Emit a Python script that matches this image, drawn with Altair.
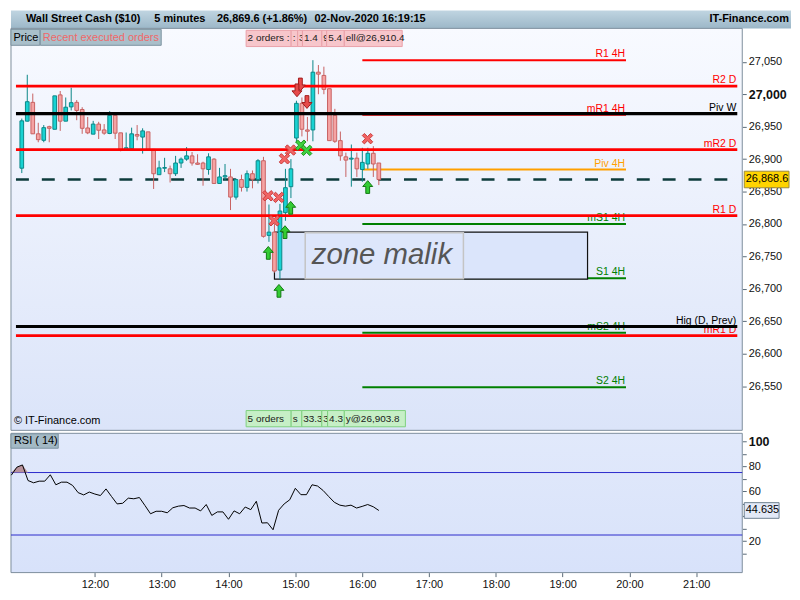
import altair as alt
import pandas as pd

# ------------------------------------------------------------------ data
first_candle = "10:50"
step_min = 5
opens = [
    26886, 26958.5, 26987.5, 26939, 26929, 26950, 26946, 26999, 26958.5, 26980.5,
    26987.5, 26976.5, 26948, 26938.5, 26954, 26945, 26939.5, 26967.5, 26940.5, 26915,
    26916, 26938, 26934, 26942, 26915, 26876, 26886, 26885, 26877.5, 26894,
    26900, 26905, 26894, 26894, 26884, 26900, 26862.5, 26872.5, 26872.5, 26841.5,
    26868.5, 26856.5, 26877.5, 26868.5, 26897.5, 26782.5, 26787.5, 26729, 26817.5, 26857.5,
    26932.5, 26986, 26945, 26945, 27034, 27029, 27008.5, 26967.5, 26928.5, 26903.5,
    26900, 26901.5, 26884, 26892.5, 26909, 26894,
]
highs = [
    26962.5, 27030, 27001, 26956, 26952.5, 26951.5, 26997.5, 27005, 26995, 27010,
    26991, 26980, 26965, 26959, 26957.5, 26954, 26974, 26967.5, 26940.5, 26941,
    26948.5, 26952.5, 26947.5, 26942, 26915, 26897.5, 26902, 26890, 26905, 26902.5,
    26918.5, 26911, 26907.5, 26896, 26909, 26901.5, 26886.5, 26892.5, 26885, 26870,
    26876, 26882.5, 26882.5, 26900, 26903.5, 26830, 26800, 26831, 26885, 26900,
    26990, 26995, 26965, 27052.5, 27045, 27042.5, 27008.5, 26977.5, 26942.5, 26910,
    26922.5, 26910, 26917.5, 26917.5, 26920, 26894,
]
lows = [
    26878.5, 26958, 26939, 26926, 26926, 26926, 26946, 26943.5, 26958.5, 26975,
    26960, 26939, 26938.5, 26938.5, 26931, 26937.5, 26938.5, 26931, 26912, 26915,
    26916, 26929, 26908.5, 26915, 26854, 26876, 26880, 26864, 26874, 26886.5,
    26897.5, 26890, 26891, 26859, 26876, 26862.5, 26862.5, 26867.5, 26821.5, 26837.5,
    26850, 26850, 26855, 26862.5, 26779, 26772.5, 26725, 26715, 26805, 26840,
    26925, 26935, 26927.5, 26927.5, 27000, 27000, 26928.5, 26925, 26897.5, 26872.5,
    26857.5, 26872.5, 26865, 26885, 26872.5, 26860,
]
closes = [
    26959, 26988.5, 26939, 26930, 26948.5, 26947.5, 26997.5, 26958.5, 26980, 26987,
    26975, 26947.5, 26940.5, 26954, 26944.5, 26940, 26967.5, 26940, 26915, 26917.5,
    26939, 26935.5, 26943.5, 26915, 26877.5, 26886.5, 26887, 26877.5, 26894, 26900,
    26905, 26894, 26892, 26885, 26903.5, 26862.5, 26872.5, 26874.5, 26841.5, 26868.5,
    26856.5, 26877.5, 26869, 26897.5, 26781, 26787.5, 26727.5, 26820, 26856, 26885,
    26986, 26946, 26943, 27034, 27031, 27007.5, 26928.5, 26927.5, 26905, 26898.5,
    26901.5, 26885, 26895, 26909, 26892.5, 26868.6,
]
current_price = 26868.6

rsi_first = "10:45"
rsi_values = [
    72.9, 79.3, 81.1, 68.6, 66.8, 68.1, 68.1, 73.2, 65.2, 67.3,
    67.3, 64.7, 58.9, 57.1, 59.4, 57.8, 56.6, 61.9, 55.8, 49.9,
    50.4, 54.5, 54.0, 55.0, 48.6, 42.0, 44.0, 44.0, 42.8, 46.8,
    48.1, 48.6, 46.6, 46.6, 44.3, 49.4, 40.7, 43.5, 43.5, 37.6,
    44.3, 42.0, 47.4, 45.3, 52.0, 34.6, 34.8, 29.2, 44.8, 49.9,
    53.2, 62.4, 57.3, 57.3, 65.2, 64.2, 60.6, 55.8, 51.2, 48.9,
    48.1, 48.9, 46.6, 47.9, 49.4, 47.6, 44.635,
]
rsi_bands = [75, 25]

level_names = ["R1 4H", "R2 D", "Piv W", "mR1 4H", "mR2 D", "Piv 4H", "R1 D",
               "mS1 4H", "S1 4H", "Hig (D, Prev)", "mS2 4H", "mR1 D", "S2 4H"]
level_prices = [27052.5, 27012.5, 26970, 26968.5, 26914.5, 26884, 26813,
                26800, 26716.5, 26642, 26632.5, 26628, 26548.5]
level_kind = ["res", "res", "piv", "res", "res", "piv4h", "res",
              "sup", "sup", "hig", "sup", "res", "sup"]
level_period = ["4H", "D", "W", "4H", "D", "4H", "D",
                "4H", "4H", "D", "4H", "D", "4H"]
pivot4h_from, pivot4h_to = "16:00", "20:00"

marker_time = [894.6, 889.1, 874.1, 883.8, 879.7, 964.7,
               904.0, 909.3,
               903.6, 900.5, 909.6,
               894.8, 889.6, 874.4, 884.1, 964.9]
marker_price = [26914, 26900.5, 26843.5, 26841, 26805, 26931.5,
                26921.5, 26913.5,
                27015, 27006, 26988,
                26825, 26787.5, 26755.5, 26697, 26857]
marker_kind = ["x_red", "x_red", "x_red", "x_red", "x_red", "x_red",
               "x_green", "x_green",
               "sell", "sell", "sell",
               "buy", "buy", "buy", "buy", "buy"]

top_start = [854.2, 895.2, 901.1, 905.5, 923.1, 927.5, 943.6]
top_end = [895.2, 901.1, 905.5, 923.1, 927.5, 943.6, 996.3]
top_text = ["2 orders :", ":", "3", "1.4", "9", "5.4", "ell@26,910.4"]
bot_start = [854.2, 895.2, 904.9, 923.1, 928.4, 943.6]
bot_end = [895.2, 904.9, 923.1, 928.4, 943.6, 999.2]
bot_text = ["5 orders", "s", "33.3", "3", "4.3", "y@26,903.8"]

zone_from, zone_to = "14:40", "19:25"
zone_low, zone_high = 26715, 26787.5
zone_text = "zone malik"

price_ticks = [26550, 26600, 26650, 26700, 26750, 26800, 26850, 26900, 26950, 27000, 27050]
rsi_ticks = [10, 20, 30, 40, 50, 60, 70, 80, 90, 100]
rsi_labelled = [20, 60, 80, 100]
hour_labels = ["12:00", "13:00", "14:00", "15:00", "16:00", "17:00", "18:00", "19:00", "20:00", "21:00"]

# ------------------------------------------------------------------ layout
FONT = "Liberation Sans"
W, HP, HR, HH, HW = 735, 404, 140, 18, 784
x_domain = [644.7, 1301.3]
p_domain = [26482, 27101.5]
r_domain = [-5.1, 106.4]


def hm(s):
    h, m = s.split(":")
    return int(h) * 60 + int(m)


xs = alt.Scale(domain=x_domain, nice=False, zero=False)
ps = alt.Scale(domain=p_domain, nice=False, zero=False)
rs = alt.Scale(domain=r_domain, nice=False, zero=False)

price_axis = alt.Axis(
    orient="right", values=price_ticks, format=",.0f", title=None,
    labelFont=FONT,
    labelFontSize={"condition": {"test": "datum.value == 27000", "value": 12.5}, "value": 11},
    labelFontWeight={"condition": {"test": "datum.value == 27000", "value": "bold"}, "value": "normal"},
    labelColor="#111111", tickColor="#5a6a78", tickSize=4, labelPadding=2,
    domain=False, grid=False, zindex=0,
)
time_axis = alt.Axis(values=[hm(s) for s in hour_labels], labelExpr="floor(datum.value / 60) + ':00'",
                     title=None, labelFont=FONT, labelFontSize=11, labelColor="#111111",
                     tickColor="#5a6a78", tickSize=4, labelPadding=2, domain=False, grid=False, zindex=0)
rsi_axis = alt.Axis(
    orient="right", values=rsi_ticks, title=None,
    labelExpr="indexof(" + str(rsi_labelled) + ", datum.value) >= 0 ? datum.label : ''",
    labelFont=FONT,
    labelFontSize={"condition": {"test": "datum.value == 100", "value": 12.5}, "value": 11},
    labelFontWeight={"condition": {"test": "datum.value == 100", "value": "bold"}, "value": "normal"},
    labelColor="#111111", tickColor="#5a6a78", tickSize=4, labelPadding=2,
    domain=False, grid=False, zindex=0,
)

X = lambda f: alt.X(f, scale=xs, axis=None)
Y = lambda f: alt.Y(f, scale=ps, axis=price_axis)
XR = lambda f: alt.X(f, scale=xs, axis=time_axis)
YR = lambda f: alt.Y(f, scale=rs, axis=rsi_axis)

t0 = hm(first_candle)
candles = pd.DataFrame({
    "t": [t0 + step_min * i for i in range(len(opens))],
    "open": opens, "high": highs, "low": lows, "close": closes,
})
candles["dir"] = ["up" if c >= o else "down" for o, c in zip(opens, closes)]

r0 = hm(rsi_first)
rsi_df = pd.DataFrame({"t": [r0 + step_min * i for i in range(len(rsi_values))], "rsi": rsi_values})

lv = pd.DataFrame({"name": level_names, "price": level_prices, "kind": level_kind, "period": level_period})
lv["start"] = [hm(pivot4h_from) if p == "4H" else x_domain[0] for p in level_period]
lv["end"] = [hm(pivot4h_to) if p == "4H" else x_domain[1] for p in level_period]

marks = pd.DataFrame({"t": marker_time, "price": marker_price, "kind": marker_kind})

top_band = (27073.5, 27098.5)
bot_band = (26487.5, 26512.5)
top_df = pd.DataFrame({"a": top_start, "b": top_end, "text": top_text})
top_df["lo"], top_df["hi"] = top_band
top_df["mid"] = sum(top_band) / 2
bot_df = pd.DataFrame({"a": bot_start, "b": bot_end, "text": bot_text})
bot_df["lo"], bot_df["hi"] = bot_band
bot_df["mid"] = sum(bot_band) / 2

zone = pd.DataFrame({"a": [hm(zone_from)], "b": [hm(zone_to)], "lo": [zone_low], "hi": [zone_high]})
zone_lab = pd.DataFrame({"a": [hm("15:08")], "b": [hm("17:32")], "lo": [zone_low + 0.8],
                         "hi": [zone_high - 1], "tx": [hm("15:14")], "ty": [26738], "text": [zone_text]})

cur = pd.DataFrame({"price": [current_price], "a": [x_domain[0]], "b": [x_domain[1]]})
one = pd.DataFrame({"k": [0]})

up_col = alt.Scale(domain=["up", "down"], range=["#19d2d2", "#f5a3a3"])
up_str = alt.Scale(domain=["up", "down"], range=["#0b8787", "#c86262"])
lvl_col = alt.Scale(domain=["res", "sup", "piv4h", "piv", "hig"],
                    range=["#ff0000", "#008000", "#ffa000", "#000000", "#000000"])

# ------------------------------------------------------------------ price panel
bg_grad = {"gradient": "linear", "x1": 0, "y1": 0, "x2": 0, "y2": 1,
           "stops": [{"offset": 0, "color": "#f8faff"}, {"offset": 1, "color": "#dbe4f9"}]}
price_bg = alt.Chart(one).mark_rect(fill=bg_grad, stroke="#7d8d9c", strokeWidth=1).encode(
    x=alt.value(0), x2=alt.value(W), y=alt.value(0), y2=alt.value(HP))

hdr_grad = {"gradient": "linear", "x1": 0, "y1": 0, "x2": 0, "y2": 1,
            "stops": [{"offset": 0, "color": "#c0d5e1"}, {"offset": 1, "color": "#9cb7c8"}]}
hdr_bg = alt.Chart(one).mark_rect(fill=hdr_grad).encode(
    x=alt.value(0), x2=alt.value(HW), y=alt.value(-HH), y2=alt.value(0))


def htext(txt, x, align="left"):
    return alt.Chart(one).mark_text(text=txt, align=align, baseline="middle", fontSize=11,
                                    fontWeight="bold", font=FONT, color="#000000").encode(
        x=alt.value(x), y=alt.value(-HH / 2))


header = [
    hdr_bg,
    htext("Wall Street Cash ($10)", 15),
    htext("5 minutes", 144),
    htext("26,869.6 (+1.86%)", 207),
    htext("02-Nov-2020 16:19:15", 305),
    htext("IT-Finance.com", 782, "right"),
]

dashed = alt.Chart(cur).mark_rule(color="#0d3b3b", strokeWidth=2.3, strokeDash=[13, 13]).encode(
    x=X("a:Q"), x2="b:Q", y=Y("price:Q"))


def level_rule(flt, width):
    return alt.Chart(lv).transform_filter(flt).mark_rule(strokeWidth=width).encode(
        x=X("start:Q"), x2="end:Q", y=Y("price:Q"),
        color=alt.Color("kind:N", scale=lvl_col, legend=None))


lines_4h = level_rule("datum.period == '4H'", 2)
lines_red = level_rule("datum.period != '4H' && datum.kind == 'res'", 2.7)
lines_blk = level_rule("datum.kind == 'piv' || datum.kind == 'hig'", 3.2)

level_labels = alt.Chart(lv).mark_text(align="right", baseline="alphabetic", dx=-1, dy=-3,
                                       fontSize=10.5, font=FONT).encode(
    x=X("end:Q"), y=Y("price:Q"), text="name:N",
    color=alt.Color("kind:N", scale=lvl_col, legend=None))

zone_rect = alt.Chart(zone).mark_rect(fill="#dbe5fb", stroke="#111111", strokeWidth=1.2).encode(
    x=X("a:Q"), x2="b:Q", y=Y("lo:Q"), y2="hi:Q")
zone_box = alt.Chart(zone_lab).mark_rect(fill="#dde6fb", stroke="#c4c4c4", strokeWidth=1.5).encode(
    x=X("a:Q"), x2="b:Q", y=Y("lo:Q"), y2="hi:Q")
zone_txt = alt.Chart(zone_lab).mark_text(align="left", baseline="alphabetic", fontSize=29.5,
                                         fontStyle="italic", font=FONT, color="#555555").encode(
    x=X("tx:Q"), y=Y("ty:Q"), text="text:N")

wicks = alt.Chart(candles).mark_rule(strokeWidth=1).encode(
    x=X("t:Q"), y=Y("low:Q"), y2="high:Q",
    color=alt.Color("dir:N", scale=up_str, legend=None))
bodies = alt.Chart(candles).mark_bar(size=3.7, strokeWidth=1).encode(
    x=X("t:Q"), y=Y("open:Q"), y2="close:Q",
    fill=alt.Fill("dir:N", scale=up_col, legend=None),
    stroke=alt.Stroke("dir:N", scale=up_str, legend=None))

arrow_path = alt.Scale(domain=["sell", "buy"], range=[
    "M0,1 L0.78,0.08 L0.3,0.08 L0.3,-1 L-0.3,-1 L-0.3,0.08 L-0.78,0.08 Z",
    "M0,-1 L0.78,-0.08 L0.3,-0.08 L0.3,1 L-0.3,1 L-0.3,-0.08 L-0.78,-0.08 Z"])
x_path = "M-1,-0.6 L-0.6,-1 L0,-0.4 L0.6,-1 L1,-0.6 L0.4,0 L1,0.6 L0.6,1 L0,0.4 L-0.6,1 L-1,0.6 L-0.4,0 Z"
mk_fill = alt.Scale(domain=["x_red", "x_green", "sell", "buy"],
                    range=["#f26464", "#3fd03f", "#e64a4a", "#33cc33"])
mk_str = alt.Scale(domain=["x_red", "x_green", "sell", "buy"],
                   range=["#c93a3a", "#1d961d", "#a01c1c", "#137a13"])
crosses = alt.Chart(marks).transform_filter("indexof(datum.kind, 'x_') == 0").mark_point(
    shape=x_path, size=110, filled=True, opacity=1, strokeWidth=1).encode(
    x=X("t:Q"), y=Y("price:Q"),
    fill=alt.Fill("kind:N", scale=mk_fill, legend=None),
    stroke=alt.Stroke("kind:N", scale=mk_str, legend=None))
arrows = alt.Chart(marks).transform_filter("indexof(datum.kind, 'x_') != 0").mark_point(
    size=165, filled=True, opacity=1, strokeWidth=1).encode(
    x=X("t:Q"), y=Y("price:Q"),
    shape=alt.Shape("kind:N", scale=arrow_path, legend=None),
    fill=alt.Fill("kind:N", scale=mk_fill, legend=None),
    stroke=alt.Stroke("kind:N", scale=mk_str, legend=None))


def order_boxes(df, fill, stroke):
    out = []
    for i in range(len(df)):
        sub = df.iloc[[i]].reset_index(drop=True)
        out.append(alt.Chart(sub).mark_rect(fill=fill, stroke=stroke, strokeWidth=1).encode(
            x=X("a:Q"), x2="b:Q", y=Y("lo:Q"), y2="hi:Q"))
        out.append(alt.Chart(sub).mark_text(align="left", baseline="middle", dx=1.5, fontSize=10,
                                            font=FONT, color="#1a1a1a").encode(
            x=X("a:Q"), y=Y("mid:Q"), text="text:N"))
    return out


tab1 = alt.Chart(one).mark_rect(fill="#a9bfca", stroke="#7d93a0").encode(
    x=alt.value(0), x2=alt.value(29), y=alt.value(1), y2=alt.value(17))
tab2 = alt.Chart(one).mark_rect(fill="#a9bfca", stroke="#7d93a0").encode(
    x=alt.value(29.5), x2=alt.value(151), y=alt.value(1), y2=alt.value(17))
tab1_t = alt.Chart(one).mark_text(text="Price", align="left", baseline="middle", fontSize=11,
                                  font=FONT, color="#000000").encode(x=alt.value(2.5), y=alt.value(9.5))
tab2_t = alt.Chart(one).mark_text(text="Recent executed orders", align="left", baseline="middle",
                                  fontSize=11, font=FONT, color="#f06868").encode(
    x=alt.value(32), y=alt.value(9.5))
copy_t = alt.Chart(one).mark_text(text="© IT-Finance.com", align="left", baseline="middle",
                                  fontSize=11, font=FONT, color="#000000").encode(
    x=alt.value(3), y=alt.value(395))

pbox = alt.Chart(cur).mark_point(shape="M-1,-0.37 L1,-0.37 L1,0.37 L-1,0.37 Z", size=2025,
                                 filled=True, opacity=1, fill="#ffd400", stroke="#9a8a3c",
                                 strokeWidth=1).encode(x=alt.value(W + 24.5), y=Y("price:Q"))
pbox_t = alt.Chart(cur).mark_text(align="left", baseline="middle", fontSize=11, font=FONT,
                                  color="#000000").encode(
    x=alt.value(W + 3.5), y=Y("price:Q"), text=alt.Text("price:Q", format=",.1f"))

price_chart = alt.layer(
    *header,
    price_bg, dashed, lines_4h, zone_rect, zone_box, zone_txt, wicks, bodies,
    level_labels, lines_red, lines_blk, crosses, arrows,
    *order_boxes(top_df, "#f7c6cb", "#e9a0a8"),
    *order_boxes(bot_df, "#c6efc6", "#7fd07f"),
    tab1, tab2, tab1_t, tab2_t, copy_t, pbox, pbox_t,
).resolve_scale(
    color="independent", fill="independent", stroke="independent", shape="independent"
).properties(width=W, height=HP)

# ------------------------------------------------------------------ RSI panel
rsi_grad = {"gradient": "linear", "x1": 0, "y1": 0, "x2": 0, "y2": 1,
            "stops": [{"offset": 0, "color": "#e1e9fb"}, {"offset": 1, "color": "#d8e2fa"}]}
rsi_bg = alt.Chart(one).mark_rect(fill=rsi_grad, stroke="#7d8d9c", strokeWidth=1).encode(
    x=alt.value(0), x2=alt.value(W), y=alt.value(0), y2=alt.value(HR))
bands = alt.Chart(pd.DataFrame({"v": rsi_bands})).mark_rule(color="#2a2acc", strokeWidth=1).encode(
    x=alt.value(0), x2=alt.value(W), y=YR("v:Q"))
ob = alt.Chart(rsi_df).transform_calculate(top="max(datum.rsi, 75)", base="75").mark_area(
    color="#b8939c", opacity=1).encode(x=XR("t:Q"), y=YR("top:Q"), y2="base:Q")
rsi_line = alt.Chart(rsi_df).mark_line(color="#000000", strokeWidth=1).encode(
    x=XR("t:Q"), y=YR("rsi:Q"))

last_rsi = pd.DataFrame({"rsi": [rsi_values[-1]]})
rbox = alt.Chart(last_rsi).mark_point(shape="M-1,-0.45 L1,-0.45 L1,0.45 L-1,0.45 Z", size=1225,
                                      filled=True, opacity=1, fill="#e2e9f7", stroke="#6f8191",
                                      strokeWidth=1).encode(x=alt.value(W + 19.5), y=YR("rsi:Q"))
rbox_t = alt.Chart(last_rsi).mark_text(align="left", baseline="middle", fontSize=11, font=FONT,
                                       color="#000000").encode(
    x=alt.value(W + 3.5), y=YR("rsi:Q"), text=alt.Text("rsi:Q", format=".3f"))
rsi_tab = alt.Chart(one).mark_rect(fill="#a3b9c5", stroke="#7d93a0").encode(
    x=alt.value(0), x2=alt.value(47.5), y=alt.value(0.5), y2=alt.value(15))
rsi_tab_t = alt.Chart(one).mark_text(text="RSI ( 14)", align="left", baseline="middle", fontSize=11,
                                     font=FONT, color="#000000").encode(x=alt.value(3), y=alt.value(8))

rsi_chart = alt.layer(rsi_bg, bands, ob, rsi_line, rsi_tab, rsi_tab_t, rbox, rbox_t).properties(
    width=W, height=HR)

chart = alt.vconcat(price_chart, rsi_chart, spacing=1).properties(
    padding=0, background="#ffffff"
).configure_view(stroke="transparent")

chart.save("out.html", embed_options={"renderer": "svg", "actions": False})
